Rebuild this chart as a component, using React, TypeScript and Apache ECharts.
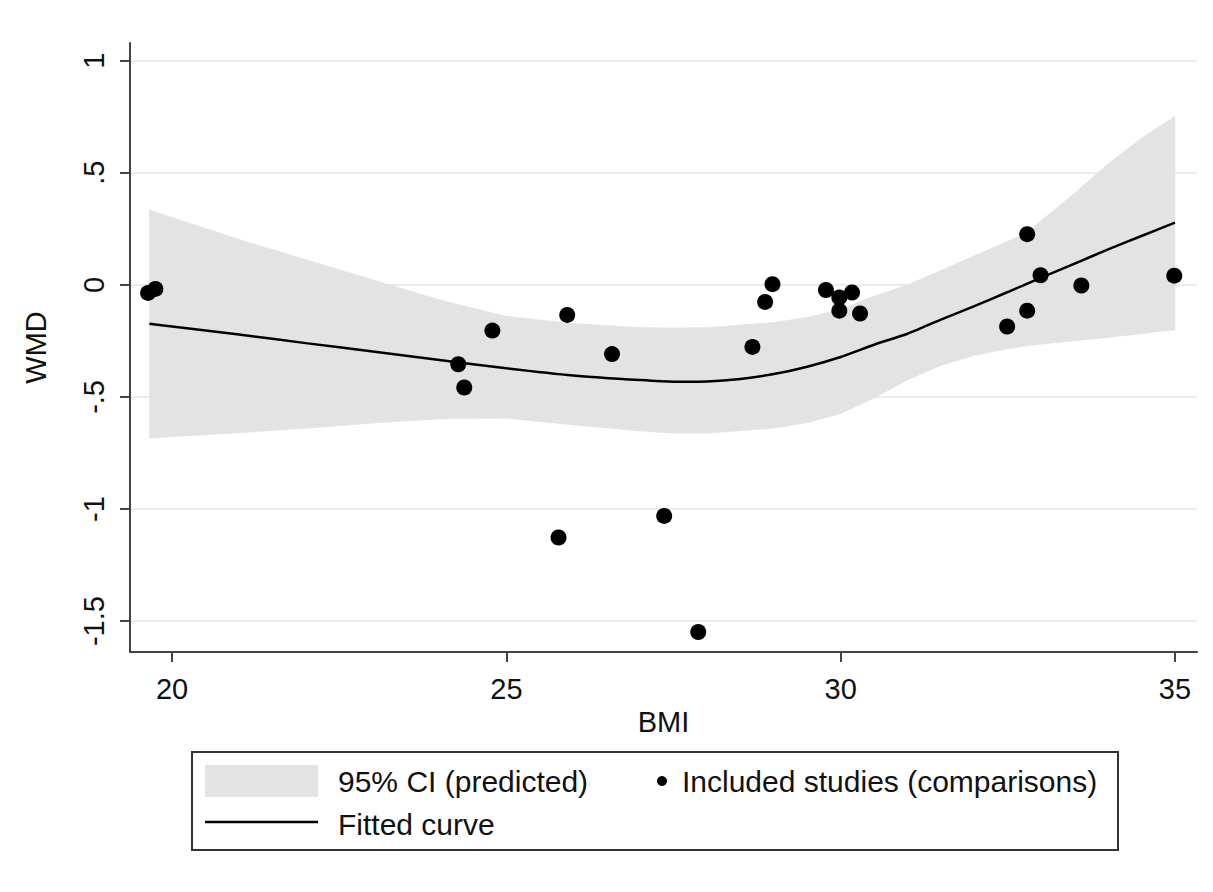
import React, { useEffect, useRef } from "react";
import * as echarts from "echarts";

// Included studies (comparisons)
const studyBMI = [19.64, 19.75, 24.28, 24.37, 24.79, 25.91, 25.78, 26.58, 27.36, 27.87, 28.68, 28.87, 28.98, 29.78, 29.98, 30.17, 29.98, 30.29, 32.49, 32.79, 32.79, 32.99, 33.6, 34.99];
const studyWMD = [-0.036, -0.018, -0.354, -0.458, -0.204, -0.134, -1.127, -0.309, -1.031, -1.549, -0.277, -0.076, 0.003, -0.023, -0.056, -0.034, -0.115, -0.128, -0.186, 0.226, -0.115, 0.043, -0.003, 0.041];

// 95% CI (predicted)
const ciBMI = [19.66, 20, 21, 22, 23, 24, 25, 26, 27, 27.5, 28, 29, 29.5, 30, 30.5, 31, 31.5, 32, 32.5, 32.8, 33, 33.5, 34, 34.5, 35];
const ciUpper = [0.335, 0.301, 0.203, 0.113, 0.023, -0.066, -0.14, -0.172, -0.19, -0.192, -0.19, -0.168, -0.145, -0.11, -0.05, 0.0, 0.065, 0.13, 0.195, 0.235, 0.287, 0.41, 0.54, 0.655, 0.752];
const ciLower = [-0.684, -0.678, -0.66, -0.64, -0.617, -0.598, -0.595, -0.625, -0.652, -0.662, -0.662, -0.64, -0.615, -0.575, -0.505, -0.425, -0.36, -0.315, -0.285, -0.272, -0.265, -0.25, -0.235, -0.218, -0.2];

// Fitted curve
const fitBMI = [19.66, 20, 21, 22, 23, 24, 25, 26, 27, 27.5, 28, 28.5, 29, 29.5, 30, 30.5, 31, 31.5, 32, 32.5, 33, 33.5, 34, 34.5, 35];
const fitWMD = [-0.174, -0.186, -0.222, -0.26, -0.297, -0.335, -0.372, -0.404, -0.425, -0.432, -0.431, -0.42, -0.398, -0.365, -0.322, -0.267, -0.218, -0.155, -0.095, -0.032, 0.032, 0.095, 0.158, 0.218, 0.278];

// Axis ticks
const xTicks = [20, 25, 30, 35];
const yTicks = [-1.5, -1, -0.5, 0, 0.5, 1];
const yTickLabels = ["-1.5", "-1", "-.5", "0", ".5", "1"];

const FONT = "'Liberation Sans', Arial, Helvetica, sans-serif";

export default function App() {
  const ref = useRef<HTMLDivElement>(null);
  useEffect(() => {
    document.body.style.margin = "0";
    const chart = echarts.init(ref.current!, null, { renderer: "svg" });
    const axisLine = { show: true, onZero: false, lineStyle: { color: "#444444", width: 2 } };
    const axisTick = { show: true, length: 10, lineStyle: { color: "#444444", width: 2 } };
    const option: any = {
      animation: false,
      backgroundColor: "#ffffff",
      textStyle: { fontFamily: FONT },
      grid: { left: 130, right: 16, top: 43, bottom: 240, containLabel: false },
      xAxis: {
        type: "value",
        min: 19.37,
        max: 35.33,
        name: "BMI",
        nameLocation: "middle",
        nameGap: 52,
        nameTextStyle: { fontFamily: FONT, fontSize: 29, color: "#111" },
        axisLine,
        axisTick: { ...axisTick, customValues: xTicks },
        axisLabel: {
          customValues: xTicks,
          margin: 22,
          fontFamily: FONT,
          fontSize: 29,
          color: "#111",
          formatter: (v: number) => String(v),
        },
        splitLine: { show: false },
      },
      yAxis: {
        type: "value",
        min: -1.638,
        max: 1.079,
        name: "WMD",
        nameLocation: "middle",
        nameGap: 80,
        nameTextStyle: { fontFamily: FONT, fontSize: 29, color: "#111" },
        axisLine,
        axisTick: { ...axisTick, customValues: yTicks },
        axisLabel: {
          customValues: yTicks,
          rotate: 90,
          margin: 22,
          fontFamily: FONT,
          fontSize: 29,
          color: "#111",
          formatter: (v: number) => {
            let best = 0;
            yTicks.forEach((t, i) => {
              if (Math.abs(t - v) < Math.abs(yTicks[best] - v)) best = i;
            });
            return yTickLabels[best];
          },
        },
        splitLine: { show: true, lineStyle: { color: "#e4eef0", width: 2 } },
      },
      series: [
        {
          type: "custom",
          name: "95% CI (predicted)",
          silent: true,
          z: 1,
          data: [0],
          renderItem: (_params: any, api: any) => {
            const up = ciBMI.map((x, i) => api.coord([x, ciUpper[i]]));
            const lo = ciBMI.map((x, i) => api.coord([x, ciLower[i]])).reverse();
            return {
              type: "polygon",
              shape: { points: up.concat(lo) },
              style: { fill: "#e3e3e3", stroke: "#e3e3e3", lineWidth: 0.5 },
            };
          },
        },
        {
          type: "line",
          name: "Fitted curve",
          z: 3,
          showSymbol: false,
          symbol: "none",
          smooth: 0.2,
          data: fitBMI.map((x, i) => [x, fitWMD[i]]),
          lineStyle: { color: "#000000", width: 2.5 },
        },
        {
          type: "scatter",
          name: "Included studies (comparisons)",
          z: 4,
          symbol: "circle",
          symbolSize: 16,
          data: studyBMI.map((x, i) => [x, studyWMD[i]]),
          itemStyle: { color: "#000000", opacity: 1 },
        },
      ],
      graphic: [
        {
          type: "rect",
          shape: { x: 192, y: 752, width: 926, height: 98 },
          style: { fill: "#ffffff", stroke: "#333333", lineWidth: 2 },
        },
        {
          type: "rect",
          shape: { x: 205, y: 765, width: 113, height: 32 },
          style: { fill: "#e3e3e3" },
        },
        {
          type: "text",
          x: 338,
          y: 781,
          style: { text: "95% CI (predicted)", font: `30px ${FONT}`, fill: "#111", verticalAlign: "middle", align: "left" },
        },
        {
          type: "circle",
          shape: { cx: 662, cy: 781, r: 5 },
          style: { fill: "#000000" },
        },
        {
          type: "text",
          x: 682,
          y: 781,
          style: { text: "Included studies (comparisons)", font: `30px ${FONT}`, fill: "#111", verticalAlign: "middle", align: "left" },
        },
        {
          type: "line",
          shape: { x1: 205, y1: 822, x2: 318, y2: 822 },
          style: { stroke: "#000000", lineWidth: 2.5 },
        },
        {
          type: "text",
          x: 338,
          y: 824,
          style: { text: "Fitted curve", font: `30px ${FONT}`, fill: "#111", verticalAlign: "middle", align: "left" },
        },
      ],
    };
    chart.setOption(option);
    return () => chart.dispose();
  }, []);
  return <div ref={ref} style={{ width: 1213, height: 892 }} />;
}
